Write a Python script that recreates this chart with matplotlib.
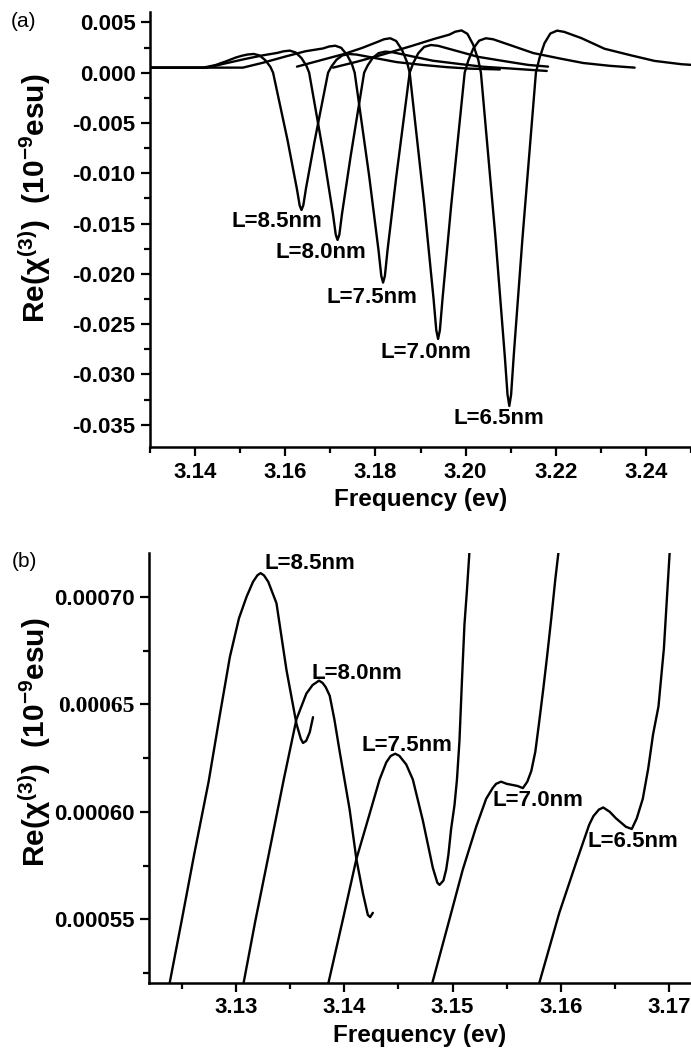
import matplotlib
matplotlib.use('Agg')
import matplotlib.pyplot as plt
from matplotlib.ticker import MultipleLocator, FuncFormatter

# ---------------- Panel (a) data: Re(chi3) vs frequency ----------------
a_labels = ['L=8.5nm', 'L=8.0nm', 'L=7.5nm', 'L=7.0nm', 'L=6.5nm']

a_x_85 = [3.1300, 3.1418, 3.1445, 3.1470, 3.1490, 3.1503, 3.1516, 3.1530, 3.1543, 3.1556,
          3.1567, 3.1573, 3.1605, 3.1626, 3.1632, 3.1636, 3.1640, 3.1646, 3.1665, 3.1695,
          3.1703, 3.1714, 3.1727, 3.1742, 3.1758, 3.1796, 3.1847, 3.1907, 3.1958, 3.2010, 3.2076]
a_y_85 = [0.0005, 0.0005, 0.00075, 0.00115, 0.00150, 0.00167, 0.00180, 0.00186, 0.00171, 0.00123,
          0.00058, 0.0, -0.00669, -0.01160, -0.01320, -0.01365, -0.01320, -0.01150, -0.00683, 0.0,
          0.00065, 0.00130, 0.00172, 0.00185, 0.00180, 0.00148, 0.00105, 0.00076, 0.00055, 0.00040, 0.00032]

a_x_80 = [3.1300, 3.1426, 3.1470, 3.1510, 3.1550, 3.1583, 3.1596, 3.1610, 3.1623, 3.1636,
          3.1647, 3.1653, 3.1685, 3.1706, 3.1712, 3.1716, 3.1720, 3.1726, 3.1745, 3.1775,
          3.1783, 3.1794, 3.1807, 3.1822, 3.1838, 3.1876, 3.1927, 3.1987, 3.2038, 3.2097, 3.2180]
a_y_80 = [0.0005, 0.0005, 0.00095, 0.00135, 0.00172, 0.00197, 0.00212, 0.00219, 0.00201, 0.00145,
          0.00068, 0.0, -0.00815, -0.01410, -0.01610, -0.01663, -0.01610, -0.01400, -0.00832, 0.0,
          0.00073, 0.00146, 0.00194, 0.00209, 0.00203, 0.00167, 0.00119, 0.00086, 0.00059, 0.00042, 0.00017]

a_x_75 = [3.1300, 3.1506, 3.1550, 3.1600, 3.1645, 3.1684, 3.1697, 3.1711, 3.1724, 3.1737,
          3.1748, 3.1754, 3.1786, 3.1807, 3.1813, 3.1817, 3.1821, 3.1827, 3.1846, 3.1876,
          3.1884, 3.1895, 3.1908, 3.1923, 3.1939, 3.1977, 3.2028, 3.2088, 3.2139, 3.2183]
a_y_75 = [0.0005, 0.0005, 0.00098, 0.00160, 0.00213, 0.00241, 0.00260, 0.00268, 0.00247, 0.00177,
          0.00083, 0.0, -0.01023, -0.01770, -0.02020, -0.02087, -0.02020, -0.01760, -0.01044, 0.0,
          0.00096, 0.00193, 0.00256, 0.00275, 0.00267, 0.00220, 0.00157, 0.00113, 0.00077, 0.00060]

a_x_70 = [3.1626, 3.1680, 3.1730, 3.1770, 3.1806, 3.1819, 3.1833, 3.1846, 3.1859, 3.1870,
          3.1876, 3.1908, 3.1929, 3.1935, 3.1939, 3.1943, 3.1949, 3.1968, 3.1998, 3.2006,
          3.2017, 3.2030, 3.2045, 3.2061, 3.2099, 3.2150, 3.2210, 3.2261, 3.2320, 3.2375]
a_y_70 = [0.0006, 0.00125, 0.00185, 0.00245, 0.00308, 0.00332, 0.00342, 0.00315, 0.00226, 0.00106,
          0.0, -0.01297, -0.02250, -0.02560, -0.02647, -0.02560, -0.02240, -0.01323, 0.0, 0.00120,
          0.00239, 0.00318, 0.00342, 0.00332, 0.00274, 0.00195, 0.00140, 0.00096, 0.00068, 0.00050]

a_x_65 = [3.1706, 3.1760, 3.1820, 3.1880, 3.1930, 3.1964, 3.1977, 3.1991, 3.2004, 3.2017,
          3.2028, 3.2034, 3.2066, 3.2087, 3.2093, 3.2097, 3.2101, 3.2107, 3.2126, 3.2156,
          3.2164, 3.2175, 3.2188, 3.2203, 3.2219, 3.2257, 3.2308, 3.2368, 3.2419, 3.2479, 3.2560]
a_y_65 = [0.0005, 0.00110, 0.00185, 0.00265, 0.00335, 0.00378, 0.00407, 0.00420, 0.00386, 0.00277,
          0.00130, 0.0, -0.01623, -0.02820, -0.03200, -0.03313, -0.03200, -0.02800, -0.01656, 0.0,
          0.00146, 0.00293, 0.00389, 0.00418, 0.00405, 0.00343, 0.00238, 0.00171, 0.00117, 0.00084, 0.00060]

# label anchor (left, vertical centre) in data units
a_lab_x = [3.1481, 3.1579, 3.1692, 3.1812, 3.1974]
a_lab_y = [-0.01484, -0.0179, -0.0223, -0.02786, -0.03442]

# ---------------- Panel (b) data: zoom near band edge ----------------
b_x_85 = [3.1237, 3.1250, 3.1262, 3.1275, 3.1285, 3.12946, 3.1303, 3.1310, 3.1316, 3.1320,
          3.13229, 3.1326, 3.1330, 3.13376, 3.13468, 3.1356, 3.1360, 3.13621, 3.1365, 3.13683, 3.13713]
b_y_85 = [0.000515, 0.000549, 0.000581, 0.000614, 0.000644, 0.000672, 0.000690, 0.000700, 0.000707, 0.000710,
          0.000711, 0.000710, 0.000707, 0.000697, 0.000666, 0.000641, 0.000634, 0.000632, 0.000633, 0.000637, 0.000644]

b_x_80 = [3.1306, 3.1318, 3.1332, 3.13443, 3.1356, 3.13652, 3.1371, 3.1374, 3.13768, 3.1380,
          3.1383, 3.13867, 3.1391, 3.13959, 3.14051, 3.14113, 3.14174, 3.14219, 3.1424, 3.14265]
b_y_80 = [0.000517, 0.000549, 0.000584, 0.000615, 0.000643, 0.000655, 0.000659, 0.000660, 0.000661, 0.000660,
          0.000658, 0.000654, 0.000643, 0.000628, 0.000601, 0.000578, 0.000562, 0.000552, 0.000551, 0.000553]

b_x_75 = [3.1384, 3.13989, 3.14113, 3.14235, 3.14327, 3.14389, 3.1443, 3.14472, 3.1451, 3.14573,
          3.14634, 3.14726, 3.14818, 3.1486, 3.1488, 3.14916, 3.14941, 3.14962, 3.14987, 3.15018,
          3.15041, 3.15064, 3.15087, 3.1511, 3.15133, 3.1516]
b_y_75 = [0.000517, 0.000550, 0.000578, 0.000599, 0.000615, 0.000623, 0.000626, 0.000627, 0.000626, 0.000622,
          0.000615, 0.000596, 0.000574, 0.000567, 0.000566, 0.000568, 0.000573, 0.000580, 0.000592, 0.000603,
          0.000615, 0.000633, 0.000661, 0.000687, 0.000703, 0.000724]

b_x_70 = [3.1479, 3.14972, 3.15094, 3.15218, 3.1531, 3.1537, 3.15402, 3.15448, 3.1550, 3.1560,
          3.15649, 3.1569, 3.15727, 3.15764, 3.1580, 3.15837, 3.15874, 3.15911, 3.15948, 3.15985]
b_y_70 = [0.000516, 0.000550, 0.000573, 0.000593, 0.000606, 0.000611, 0.000613, 0.000614, 0.000613, 0.000612,
          0.000611, 0.000614, 0.000619, 0.000628, 0.000642, 0.000657, 0.000673, 0.000690, 0.000708, 0.000724]

b_x_65 = [3.1577, 3.15985, 3.16138, 3.16261, 3.1630, 3.1635, 3.1639, 3.1645, 3.16507, 3.1660,
          3.16654, 3.1670, 3.16755, 3.16805, 3.1685, 3.1690, 3.1695, 3.1700, 3.17015]
b_y_65 = [0.000515, 0.000553, 0.000576, 0.000594, 0.000598, 0.000601, 0.000602, 0.000600, 0.000597, 0.000593,
          0.000592, 0.000597, 0.000606, 0.000620, 0.000636, 0.000649, 0.000676, 0.000718, 0.000730]

b_lab_x = [3.13268, 3.13698, 3.14159, 3.15365, 3.16242]
b_lab_y = [0.0007153, 0.0006644, 0.0006307, 0.0006051, 0.0005861]

a_xticks_major, a_xticks_minor = 0.02, 0.01
a_yticks_major, a_yticks_minor = 0.005, 0.0025
b_xticks_major, b_xticks_minor = 0.01, 0.005
b_yticks_major, b_yticks_minor = 0.00005, 0.000025

# ---------------- Figure ----------------
plt.rcParams['font.family'] = ['Liberation Sans', 'DejaVu Sans']
plt.rcParams['font.weight'] = 'bold'
plt.rcParams['mathtext.fontset'] = 'custom'
plt.rcParams['mathtext.rm'] = 'Liberation Sans:bold'
plt.rcParams['mathtext.it'] = 'Liberation Sans:bold'
plt.rcParams['mathtext.bf'] = 'Liberation Sans:bold'

W, H = 691, 1053
fig = plt.figure(figsize=(W / 100, H / 100), dpi=100)


def px_axes(l, t, r, b):
    return [l / W, 1 - b / H, (r - l) / W, (b - t) / H]


axA = fig.add_axes(px_axes(150, 11.7, 691, 447.3))
axB = fig.add_axes(px_axes(149, 552.7, 691, 982.7))

LW = 1.7
TICKFS = 16
LABFS = 16

for ax in (axA, axB):
    for s in ('top', 'right'):
        ax.spines[s].set_visible(False)
    for s in ('left', 'bottom'):
        ax.spines[s].set_linewidth(1.8)
    ax.tick_params(which='major', direction='out', length=6.5, width=1.6,
                   labelsize=TICKFS, pad=4)
    ax.tick_params(which='minor', direction='out', length=4, width=1.6)

# Panel (a)
for xs, ys in [(a_x_85, a_y_85), (a_x_80, a_y_80), (a_x_75, a_y_75),
               (a_x_70, a_y_70), (a_x_65, a_y_65)]:
    axA.plot(xs, ys, color='black', lw=LW, solid_joinstyle='round', solid_capstyle='round')
for t, x, y in zip(a_labels, a_lab_x, a_lab_y):
    axA.text(x, y, t, fontsize=LABFS, fontweight='bold', ha='left', va='center')
axA.set_xlim(3.13, 3.25)
axA.set_ylim(-0.03724, 0.00606)
axA.xaxis.set_major_locator(MultipleLocator(a_xticks_major))
axA.xaxis.set_minor_locator(MultipleLocator(a_xticks_minor))
axA.yaxis.set_major_locator(MultipleLocator(a_yticks_major))
axA.yaxis.set_minor_locator(MultipleLocator(a_yticks_minor))
axA.xaxis.set_major_formatter(FuncFormatter(lambda v, p: f'{v:.2f}'))
axA.yaxis.set_major_formatter(FuncFormatter(lambda v, p: '0.000' if abs(v) < 1e-9 else f'{v:.3f}'))

# Panel (b)
for xs, ys in [(b_x_85, b_y_85), (b_x_80, b_y_80), (b_x_75, b_y_75),
               (b_x_70, b_y_70), (b_x_65, b_y_65)]:
    axB.plot(xs, ys, color='black', lw=LW, solid_joinstyle='round', solid_capstyle='round')
for t, x, y in zip(a_labels, b_lab_x, b_lab_y):
    axB.text(x, y, t, fontsize=LABFS, fontweight='bold', ha='left', va='center')
axB.set_xlim(3.1220, 3.1720)
axB.set_ylim(0.0005205, 0.0007205)
axB.xaxis.set_major_locator(MultipleLocator(b_xticks_major))
axB.xaxis.set_minor_locator(MultipleLocator(b_xticks_minor))
axB.yaxis.set_major_locator(MultipleLocator(b_yticks_major))
axB.yaxis.set_minor_locator(MultipleLocator(b_yticks_minor))
axB.xaxis.set_major_formatter(FuncFormatter(lambda v, p: f'{v:.2f}'))
axB.yaxis.set_major_formatter(FuncFormatter(lambda v, p: f'{v:.5f}'))

fig.canvas.draw()
for ax in (axA, axB):
    for lab in ax.get_xticklabels() + ax.get_yticklabels():
        lab.set_fontweight('bold')
for lab in axB.get_yticklabels():
    if lab.get_text() == '0.00065':
        lab.set_fontfamily('Liberation Serif')
        lab.set_fontsize(TICKFS + 1)

ylab = r'Re($\chi^{(3)}$)  (10$^{-9}$esu)'
XLFS = 17.5
YLFS = 21.5
axA.set_xlabel('Frequency (ev)', fontsize=XLFS, fontweight='bold', labelpad=4)
axB.set_xlabel('Frequency (ev)', fontsize=XLFS, fontweight='bold', labelpad=4)
fig.text(35 / W, 1 - 198 / H, ylab, rotation=90, fontsize=YLFS, ha='center', va='center')
fig.text(35 / W, 1 - 742 / H, ylab, rotation=90, fontsize=YLFS, ha='center', va='center')

fig.text(11 / W, 1 - 12 / H, '(a)', fontsize=15, fontweight='normal', ha='left', va='top')
fig.text(12 / W, 1 - 552 / H, '(b)', fontsize=15, fontweight='normal', ha='left', va='top')

fig.savefig('out.png', dpi=100)
